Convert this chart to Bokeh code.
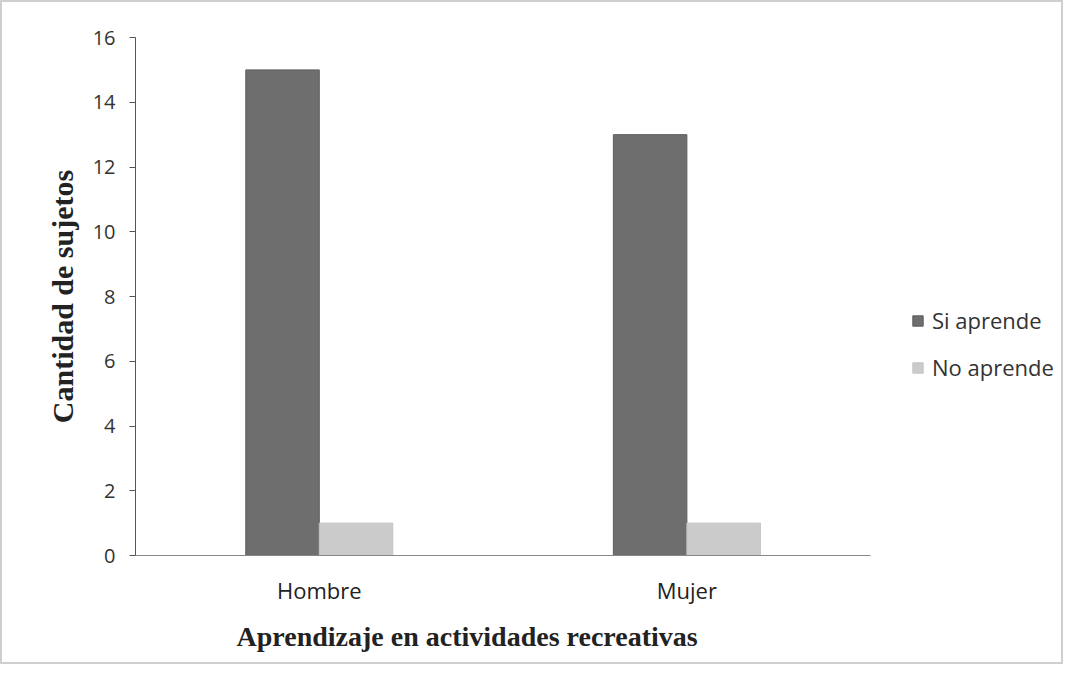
from bokeh.plotting import figure
from bokeh.models import Range1d, ColumnDataSource, Legend, LegendItem, FixedTicker, Title
from bokeh.transform import dodge
from bokeh.embed import file_html
from bokeh.resources import INLINE

categories = ["Hombre", "Mujer"]
si_aprende = [15, 13]
no_aprende = [1, 1]
y_ticks = [0, 2, 4, 6, 8, 10, 12, 14, 16]

x_pos = [i + 0.5 for i in range(len(categories))]
src = ColumnDataSource(data=dict(x=x_pos, si=si_aprende, no=no_aprende))

p = figure(width=1063, height=664, x_range=Range1d(0, 2.53), y_range=Range1d(0, 16),
           output_backend="svg", toolbar_location=None,
           min_border_left=133, min_border_right=0, min_border_top=35, min_border_bottom=111,
           styles={"border": "2px solid #cfcfcf"})
p.outline_line_color = None
p.xgrid.grid_line_color = None
p.ygrid.grid_line_color = None

r1 = p.vbar(x=dodge("x", -0.1), top="si", width=0.2, source=src,
            fill_color="#6e6e6e", line_color="#5e5e5e")
r2 = p.vbar(x=dodge("x", 0.1), top="no", width=0.2, source=src,
            fill_color="#cbcbcb", line_color="#c4c4c4")

p.yaxis.ticker = FixedTicker(ticks=y_ticks)
p.yaxis.minor_tick_line_color = None
p.yaxis.major_tick_in = 0
p.yaxis.major_tick_out = 6
p.yaxis.axis_line_color = "#555555"
p.yaxis.major_tick_line_color = "#555555"
p.yaxis.major_label_text_font = "Open Sans"
p.yaxis.major_label_text_font_size = "20px"
p.yaxis.major_label_text_color = "#333333"
p.yaxis.major_label_standoff = 14
p.yaxis.axis_label = "Cantidad de sujetos"
p.yaxis.axis_label_text_font = "Liberation Serif"
p.yaxis.axis_label_text_font_style = "bold"
p.yaxis.axis_label_text_font_size = "30px"
p.yaxis.axis_label_text_color = "#222222"
p.yaxis.axis_label_standoff = 11

p.xaxis.ticker = FixedTicker(ticks=x_pos)
p.xaxis.major_label_overrides = {x: c for x, c in zip(x_pos, categories)}
p.xaxis.bounds = (0, len(categories))
p.xaxis.axis_line_color = "#888888"
p.xaxis.major_tick_line_color = None
p.xaxis.minor_tick_line_color = None
p.xaxis.major_label_text_font = "Open Sans"
p.xaxis.major_label_text_font_size = "22px"
p.xaxis.major_label_text_color = "#222222"
p.xaxis.major_label_standoff = 13

p.add_layout(Title(text="Aprendizaje en actividades recreativas", align="left", offset=101,
                   text_font="Liberation Serif", text_font_style="bold",
                   text_font_size="28px", text_color="#222222", standoff=22), "below")

legend = Legend(items=[LegendItem(label="Si aprende", renderers=[r1]),
                       LegendItem(label="No aprende", renderers=[r2])],
                location=(776, 173), orientation="vertical", margin=0, padding=0,
                label_text_font="Open Sans", label_text_font_size="22px",
                label_text_color="#333333", glyph_width=13, glyph_height=13,
                spacing=17, border_line_color=None, background_fill_alpha=0,
                label_standoff=8)
p.add_layout(legend, "center")

open("out.html", "w").write(file_html(p, INLINE))
